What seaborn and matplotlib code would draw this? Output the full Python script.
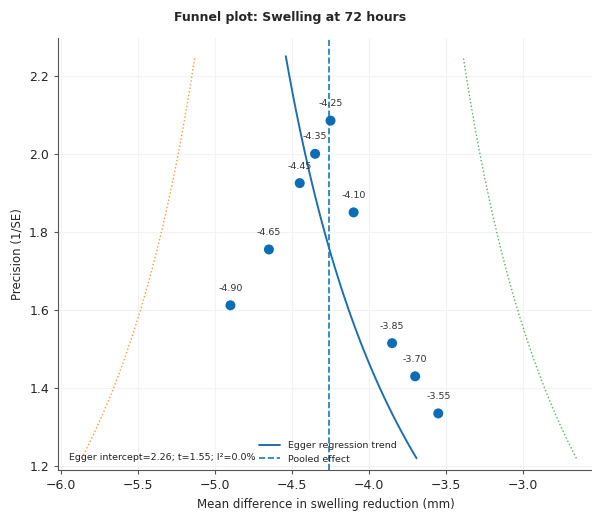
import numpy as np
import pandas as pd
import matplotlib
matplotlib.use('Agg')
import matplotlib.pyplot as plt
import seaborn as sns

# study effects (mean difference, mm) and precision (1/SE)
effects = [-4.90, -4.65, -4.45, -4.35, -4.25, -4.10, -3.85, -3.70, -3.55]
precision = [1.612, 1.755, 1.925, 2.000, 2.085, 1.850, 1.515, 1.430, 1.335]
egger_text = 'Egger intercept=2.26; t=1.55; I\u00b2=0.0%'

df = pd.DataFrame({'effect': effects, 'precision': precision})

sns.set_style('whitegrid', {'grid.color': '#f2f2f2', 'axes.edgecolor': '#555555',
                            'xtick.bottom': True, 'ytick.left': True})
plt.rcParams['font.family'] = ['DejaVu Sans']

# pooled (inverse variance) and Egger regression (z on precision)
w = df['precision'] ** 2
pooled = np.sum(w * df['effect']) / np.sum(w)
z = df['effect'] * df['precision']
slope, intercept = np.polyfit(df['precision'], z, 1)

prec_grid = np.linspace(1.22, 2.25, 100)
lower = pooled - 1.96 / prec_grid
upper = pooled + 1.96 / prec_grid
egger_line = slope + intercept / prec_grid

fig = plt.figure(figsize=(5.92, 5.12), dpi=100)
ax = fig.add_axes([0.098, 0.082, 0.905, 0.844])

ax.plot(lower, prec_grid, ':', color='#ff7f0e', lw=1, alpha=0.8)
ax.plot(upper, prec_grid, ':', color='#2ca02c', lw=1, alpha=0.8)
sns.lineplot(x=egger_line, y=prec_grid, ax=ax, color='#1f6fb0', lw=1.4,
             sort=False, label='Egger regression trend')
ax.axvline(pooled, color='#1f77b4', ls='--', lw=1.2, label='Pooled effect')
sns.scatterplot(data=df, x='effect', y='precision', ax=ax, color='#0b6db5',
                s=52, edgecolor='none', zorder=3)

for e, p in zip(effects, precision):
    ax.annotate(f'{e:.2f}', (e, p), xytext=(0, 9), textcoords='offset points',
                ha='center', va='bottom', fontsize=6.8, color='#333333')

ax.text(0.02, 0.018, egger_text, transform=ax.transAxes, fontsize=6.8,
        ha='left', va='bottom', color='#222222')

ax.set_xlim(-6.02, -2.54)
ax.set_ylim(1.19, 2.297)
ax.set_xticks([-6.0, -5.5, -5.0, -4.5, -4.0, -3.5, -3.0])
ax.set_yticks([1.2, 1.4, 1.6, 1.8, 2.0, 2.2])
ax.tick_params(labelsize=9, length=3, color='#555555')
ax.set_xlabel('Mean difference in swelling reduction (mm)', fontsize=8.5)
ax.set_ylabel('Precision (1/SE)', fontsize=8.5)
ax.set_title('Funnel plot: Swelling at 72 hours', fontsize=9, fontweight='bold',
             pad=12, x=0.434)
ax.legend(loc='lower left', bbox_to_anchor=(0.36, -0.005), frameon=False, fontsize=6.8,
          handlelength=2.2)
sns.despine(ax=ax)

fig.savefig('out.png', dpi=100)
